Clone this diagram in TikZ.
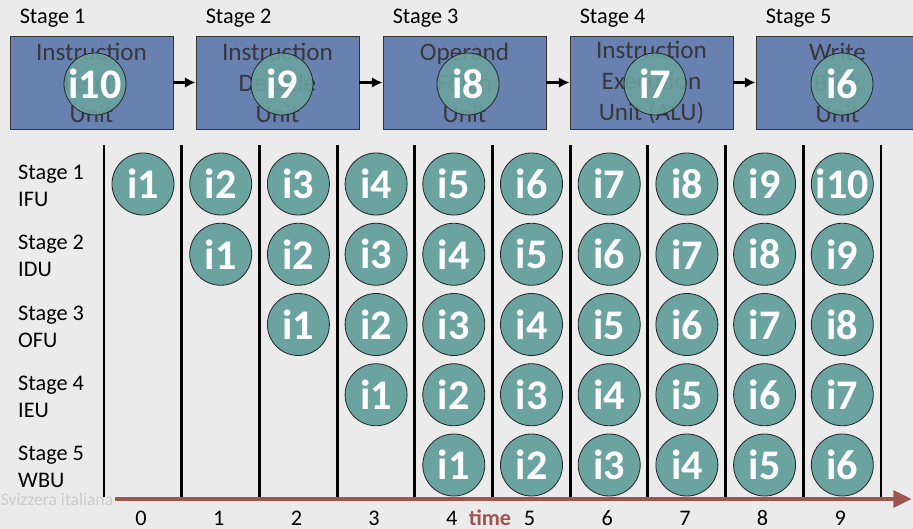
\documentclass[tikz,border=0pt]{standalone}
\usepackage{fontspec}
\setmainfont{Carlito}
\usepackage{tikz}
\usetikzlibrary{arrows.meta,calc}
\definecolor{bggray}{RGB}{235,235,235}
\definecolor{unitblue}{RGB}{104,129,176}
\definecolor{instteal}{RGB}{107,163,160}
\definecolor{timered}{RGB}{160,84,80}
\definecolor{unittext}{RGB}{55,55,60}
\tikzstyle{pipe}=[
  x=0.03cm, y=-0.03cm, >=Latex, font=\fontsize{19}{22}\selectfont
]
\tikzstyle{unitbox}=[
  draw=black!80, line width=0.8pt, fill=unitblue, text=unittext,
  minimum width=4.89cm, minimum height=2.79cm, align=center,
  font=\fontsize{21.5}{26.5}\selectfont
]
\tikzstyle{inst}=[
  circle, draw=black!85, line width=0.7pt, fill=instteal, text=white,
  minimum size=1.86cm, inner sep=0pt, font=\fontsize{36}{36}\selectfont\bfseries
]
\tikzstyle{instover}=[
  inst, fill opacity=0.88, text opacity=1
]
\tikzstyle{unitarrow}=[
  ->, line width=2.2pt, >={Latex[length=9pt,width=9pt]}
]
\tikzstyle{slot}=[
  line width=2.4pt
]
\begin{document}
\begin{tikzpicture}[pipe]
    \fill[bggray] (0,0) rectangle (913,529);
    \useasboundingbox (0,0) rectangle (913,529);

    % pipeline units
    \node (ifu) [unitbox] at (91.5,82.5) {Instruction\\Fetch\\Unit};
    \node (idu) [unitbox] at (277.5,82.5) {Instruction\\Decode\\Unit};
    \node (ofu) [unitbox] at (464.5,82.5) {Operand\\Fetch\\Unit};
    \node (ieu) [unitbox] at (651.5,82.5) {Instruction\\Execution\\Unit (ALU)};
    \node (wbu) [unitbox] at (837.5,82.5) {Write\\Back\\Unit};
    \foreach \u/\s in {ifu/1, idu/2, ofu/3, ieu/4, wbu/5}
        \node [anchor=south west, inner sep=0pt] at ($(\u.north west) + (10,-8)$) {Stage \s};
    \draw [unitarrow] (ifu) -- (idu);
    \draw [unitarrow] (idu) -- (ofu);
    \draw [unitarrow] (ofu) -- (ieu);
    \draw [unitarrow] (ieu) -- (wbu);

    % instructions currently in the units
    \node (top1) [instover] at (95,84) {i10};
    \node (top2) [instover] at (282,84) {i9};
    \node (top3) [instover] at (468,84) {i8};
    \node (top4) [instover] at (655,84) {i7};
    \node (top5) [instover] at (842,84) {i6};

    % row labels
    \foreach \r/\n in {0/IFU, 1/IDU, 2/OFU, 3/IEU, 4/WBU}
        \node (row\r) [anchor=west, align=left, inner sep=0pt,
                       font=\fontsize{19}{23}\selectfont] at (18,186+70.25*\r) {Stage \the\numexpr\r+1\relax\\\n};

    % clock slots
    \foreach \j in {0,...,10}
        \draw [slot] (104+77.7*\j,145) -- (104+77.7*\j,497);

    % pipeline table
    \foreach \c in {0,...,9}
        \foreach \r in {0,...,4} {
            \ifnum\c<\r\relax\else
                \node (i-\r-\c) [inst] at (143+77.7*\c,184+70.25*\r) {i\the\numexpr\c-\r+1\relax};
            \fi
        };

    % time axis
    \node (mark) [text=black!20, font=\fontsize{15}{15}\selectfont, inner sep=0pt] at (57,499) {Svizzera italiana};
    \coordinate (tstart) at (115,499);
    \coordinate (tend) at (912,499);
    \draw [->, timered, line width=4pt, >={Triangle[length=16pt,width=14pt]}] (tstart) -- (tend);
    \foreach \c in {0,...,9}
        \node (t\c) [inner sep=0pt] at (141+77.7*\c,518) {\c};
    \node (time) [timered, inner sep=0pt, font=\fontsize{19}{22}\selectfont\bfseries] at (490,518) {time};
\end{tikzpicture}
\end{document}
